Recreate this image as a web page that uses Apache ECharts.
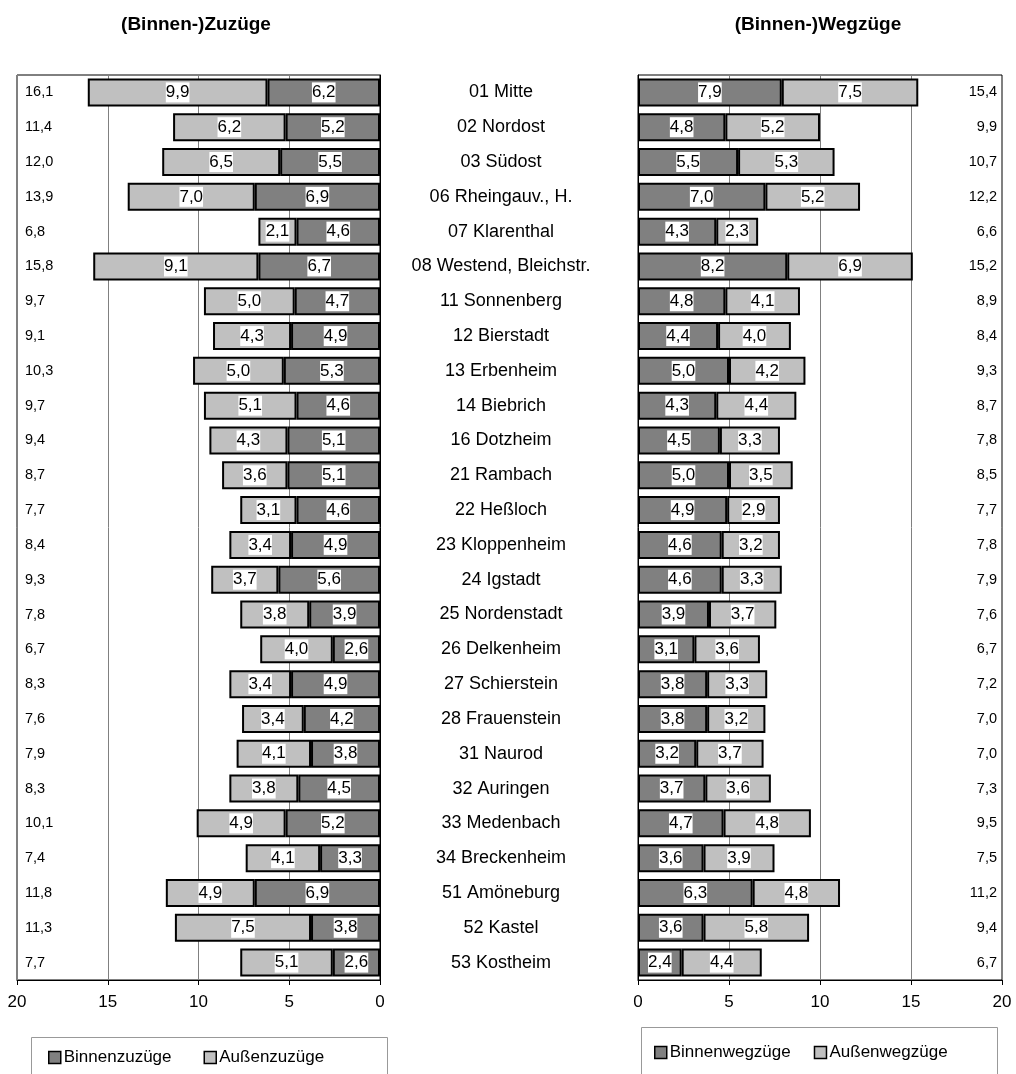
<!DOCTYPE html>
<html>
<head>
<meta charset="utf-8">
<script src="https://cdn.jsdelivr.net/npm/echarts@6/dist/echarts.min.js"></script>
<style>html,body{margin:0;padding:0;background:#fff}#c{width:1016px;height:1074px}</style>
</head>
<body>
<div id="c"></div>
<script>
const categories = ['01 Mitte','02 Nordost','03 Südost','06 Rheingauv., H.','07 Klarenthal','08 Westend, Bleichstr.','11 Sonnenberg','12 Bierstadt','13 Erbenheim','14 Biebrich','16 Dotzheim','21 Rambach','22 Heßloch','23 Kloppenheim','24 Igstadt','25 Nordenstadt','26 Delkenheim','27 Schierstein','28 Frauenstein','31 Naurod','32 Auringen','33 Medenbach','34 Breckenheim','51 Amöneburg','52 Kastel','53 Kostheim'];
const binnenZuzuege = [6.2,5.2,5.5,6.9,4.6,6.7,4.7,4.9,5.3,4.6,5.1,5.1,4.6,4.9,5.6,3.9,2.6,4.9,4.2,3.8,4.5,5.2,3.3,6.9,3.8,2.6];
const aussenZuzuege = [9.9,6.2,6.5,7.0,2.1,9.1,5.0,4.3,5.0,5.1,4.3,3.6,3.1,3.4,3.7,3.8,4.0,3.4,3.4,4.1,3.8,4.9,4.1,4.9,7.5,5.1];
const totalZuzuege = [16.1,11.4,12.0,13.9,6.8,15.8,9.7,9.1,10.3,9.7,9.4,8.7,7.7,8.4,9.3,7.8,6.7,8.3,7.6,7.9,8.3,10.1,7.4,11.8,11.3,7.7];
const binnenWegzuege = [7.9,4.8,5.5,7.0,4.3,8.2,4.8,4.4,5.0,4.3,4.5,5.0,4.9,4.6,4.6,3.9,3.1,3.8,3.8,3.2,3.7,4.7,3.6,6.3,3.6,2.4];
const aussenWegzuege = [7.5,5.2,5.3,5.2,2.3,6.9,4.1,4.0,4.2,4.4,3.3,3.5,2.9,3.2,3.3,3.7,3.6,3.3,3.2,3.7,3.6,4.8,3.9,4.8,5.8,4.4];
const totalWegzuege = [15.4,9.9,10.7,12.2,6.6,15.2,8.9,8.4,9.3,8.7,7.8,8.5,7.7,7.8,7.9,7.6,6.7,7.2,7.0,7.0,7.3,9.5,7.5,11.2,9.4,6.7];
const axisTicks = [0,5,10,15,20];

const FONT = "'Liberation Sans', Arial, sans-serif";
const fmt = v => Number(v).toFixed(1).replace('.', ',');
const DARK = '#808080', LIGHT = '#c0c0c0';

const barLabel = {
  show: true, position: 'inside', backgroundColor: '#fff', color: '#000',
  fontFamily: FONT, fontSize: 17, lineHeight: 19, padding: [1, 0, 0, 0],
  formatter: p => fmt(p.value)
};
function barSeries(name, data, color, xi, yi, stack) {
  return {
    name, type: 'bar', data, stack, xAxisIndex: xi, yAxisIndex: yi,
    barWidth: 28,
    itemStyle: { color, borderColor: '#000', borderWidth: 2 },
    label: barLabel,
    emphasis: { disabled: true },
    animation: false
  };
}
function xAx(gi, inverse) {
  return {
    type: 'value', gridIndex: gi, min: 0, max: 20, interval: 5, inverse,
    axisLine: { show: true, lineStyle: { color: '#000', width: 1 } },
    axisTick: { show: true, length: 5, lineStyle: { color: '#000' } },
    axisLabel: { color: '#000', fontFamily: FONT, fontSize: 17, margin: 14,
      formatter: v => axisTicks.includes(v) ? String(v) : '' },
    splitLine: { show: true, lineStyle: { color: '#808080', width: 1 } }
  };
}

const chart = echarts.init(document.getElementById('c'), null, { renderer: 'canvas' });
chart.setOption({
  backgroundColor: '#fff',
  animation: false,
  title: [
    { text: '(Binnen-)Zuzüge', left: 191, top: 10, textAlign: 'center',
      textStyle: { fontFamily: FONT, fontSize: 19, fontWeight: 'bold', color: '#000' } },
    { text: '(Binnen-)Wegzüge', left: 813, top: 10, textAlign: 'center',
      textStyle: { fontFamily: FONT, fontSize: 19, fontWeight: 'bold', color: '#000' } }
  ],
  grid: [
    { left: 17, width: 363, top: 75, height: 905, show: true, borderColor: '#000', borderWidth: 1, backgroundColor: 'transparent' },
    { left: 638, width: 364, top: 75, height: 905, show: true, borderColor: '#000', borderWidth: 1, backgroundColor: 'transparent' }
  ],
  xAxis: [xAx(0, true), xAx(1, false)],
  yAxis: [
    { type: 'category', gridIndex: 0, data: categories, inverse: true, position: 'right',
      axisLine: { show: true, lineStyle: { color: '#000' } }, axisTick: { show: false },
      axisLabel: { show: false }, splitLine: { show: false } },
    { type: 'category', gridIndex: 1, data: categories, inverse: true, position: 'left',
      axisLine: { show: true, lineStyle: { color: '#000' } }, axisTick: { show: false },
      axisLabel: { show: true, align: 'center', margin: 137, color: '#000', fontFamily: FONT, fontSize: 18 },
      splitLine: { show: false } },
    { type: 'category', gridIndex: 0, data: totalZuzuege.map(fmt), inverse: true, position: 'left',
      axisLine: { show: false }, axisTick: { show: false },
      axisLabel: { show: true, inside: true, align: 'left', margin: 8, color: '#000', fontFamily: FONT, fontSize: 14.5 },
      splitLine: { show: false } },
    { type: 'category', gridIndex: 1, data: totalWegzuege.map(fmt), inverse: true, position: 'right',
      axisLine: { show: false }, axisTick: { show: false },
      axisLabel: { show: true, inside: true, align: 'right', margin: 5, color: '#000', fontFamily: FONT, fontSize: 14.5 },
      splitLine: { show: false } }
  ],
  legend: [
    { data: ['Binnenzuzüge', 'Außenzuzüge'], left: 48, top: 1049, padding: 0, itemWidth: 12, itemHeight: 12, itemGap: 32,
      icon: 'rect', selectedMode: false,
      itemStyle: { borderColor: '#000', borderWidth: 1.5 },
      textStyle: { fontFamily: FONT, fontSize: 17, color: '#000', padding: [0, 0, 0, -2] } },
    { data: ['Binnenwegzüge', 'Außenwegzüge'], left: 654, top: 1044, padding: 0, itemWidth: 12, itemHeight: 12, itemGap: 23,
      icon: 'rect', selectedMode: false,
      itemStyle: { borderColor: '#000', borderWidth: 1.5 },
      textStyle: { fontFamily: FONT, fontSize: 17, color: '#000', padding: [0, 0, 0, -2] } }
  ],
  graphic: [
    { type: 'rect', shape: { x: 31.5, y: 1037.5, width: 356, height: 60 }, style: { fill: 'none', stroke: '#999', lineWidth: 1 }, z: -1 },
    { type: 'rect', shape: { x: 641.5, y: 1027.5, width: 356, height: 60 }, style: { fill: 'none', stroke: '#999', lineWidth: 1 }, z: -1 }
  ],
  series: [
    barSeries('Binnenzuzüge', binnenZuzuege, DARK, 0, 0, 'zu'),
    barSeries('Außenzuzüge', aussenZuzuege, LIGHT, 0, 0, 'zu'),
    barSeries('Binnenwegzüge', binnenWegzuege, DARK, 1, 1, 'weg'),
    barSeries('Außenwegzüge', aussenWegzuege, LIGHT, 1, 1, 'weg')
  ]
});
</script>
</body>
</html>
